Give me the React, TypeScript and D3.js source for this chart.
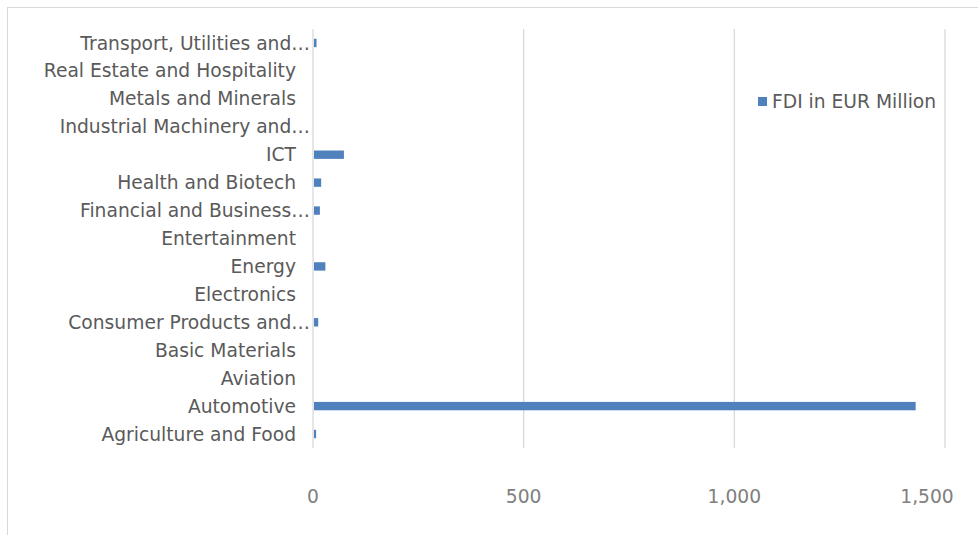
import React from "react";
import * as d3 from "d3";

const categories = [
  "Agriculture and Food",
  "Automotive",
  "Aviation",
  "Basic Materials",
  "Consumer Products and…",
  "Electronics",
  "Energy",
  "Entertainment",
  "Financial and Business…",
  "Health and Biotech",
  "ICT",
  "Industrial Machinery and…",
  "Metals and Minerals",
  "Real Estate and Hospitality",
  "Transport, Utilities and…",
];
const values = [5, 1428, 0, 0, 10, 0, 27, 0, 14, 17, 71, 0, 0, 0, 6];
const xTicks = [0, 500, 1000, 1500];
const seriesName = "FDI in EUR Million";

const W = 978;
const H = 535;
const left = 313;
const right = 945;
const top = 29;
const bottom = 448;
const font = "'DejaVu Sans', Verdana, sans-serif";
const fs = 18.7;

export default function App() {
  const x = d3.scaleLinear().domain([0, 1500]).range([left, right]);
  const y = d3
    .scaleBand<string>()
    .domain([...categories].reverse())
    .range([top, bottom])
    .paddingInner(0.7)
    .paddingOuter(0.35);
  const fmt = d3.format(",");
  return (
    <svg
      width={W}
      height={H}
      style={{ position: "absolute", left: 0, top: 0, background: "#fff" }}
    >
      <rect x={7.5} y={7.5} width={W + 20} height={H + 20} fill="#fff" stroke="#d9d9d9" />
      {xTicks.map((t) => (
        <line key={t} x1={x(t)} x2={x(t)} y1={top} y2={bottom} stroke="#d9d9d9" strokeWidth={1.3} />
      ))}
      {categories.map((c, i) => (
        <rect
          key={c}
          x={x(0) + 1}
          y={y(c)!}
          width={Math.max(0, x(values[i]) - x(0))}
          height={y.bandwidth()}
          fill="#4f81bd"
        />
      ))}
      {categories.map((c) => (
        <text
          key={c}
          x={c.endsWith("…") ? 310 : 296}
          y={y(c)! + y.bandwidth() / 2}
          dy="0.35em"
          textAnchor="end"
          fontFamily={font}
          fontSize={fs}
          fill="#5a5a5a"
        >
          {c}
        </text>
      ))}
      {xTicks.map((t, i) => (
        <text
          key={t}
          x={i === xTicks.length - 1 ? x(t) - 18 : x(t)}
          y={496}
          dy="0.35em"
          textAnchor="middle"
          fontFamily={font}
          fontSize={fs}
          fill="#808080"
        >
          {fmt(t)}
        </text>
      ))}
      <rect x={758} y={97} width={9} height={9} fill="#4f81bd" />
      <text x={772} y={101.5} dy="0.35em" fontFamily={font} fontSize={fs} fill="#5a5a5a">
        {seriesName}
      </text>
    </svg>
  );
}
